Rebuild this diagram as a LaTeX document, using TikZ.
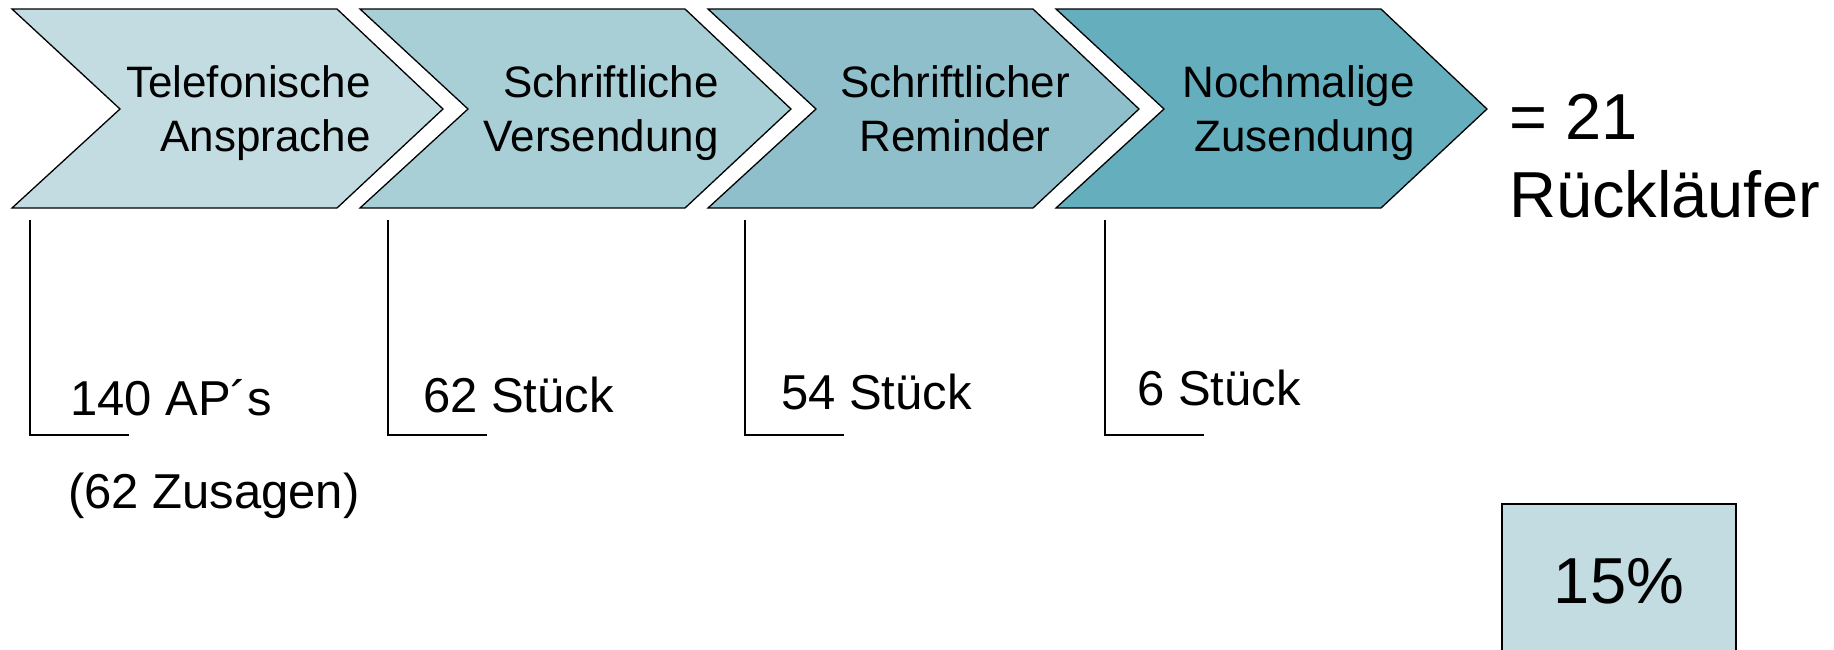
\documentclass[tikz,border=0pt]{standalone}
\usepackage{fontspec}
\setmainfont{Liberation Sans}
\definecolor{cA}{RGB}{194,220,226}
\definecolor{cB}{RGB}{168,207,214}
\definecolor{cC}{RGB}{143,191,202}
\definecolor{cD}{RGB}{100,174,189}
\begin{document}
\begin{tikzpicture}[x=1pt,y=-1pt,
  chev/.style={draw=black,line width=1.3pt,line join=miter},
  steptext/.style={inner sep=0pt,font=\fontsize{44}{54}\selectfont},
  numtext/.style={inner sep=0pt,anchor=west,font=\fontsize{49}{58}\selectfont},
  bigtext/.style={inner sep=0pt,anchor=west,align=left,font=\fontsize{65}{78}\selectfont},
  bracket/.style={draw=black,line width=1.3pt}]
\useasboundingbox (0,0) rectangle (1834,649);
% chevrons
\foreach \x/\c in {12/cA,360/cB,708/cC,1056/cD}{
  \fill[\c] (\x,9) -- (\x+325,9) -- (\x+431,109) -- (\x+325,208) -- (\x,208) -- (\x+108,109) -- cycle;
  \draw[chev] (\x,9) -- (\x+325,9) -- (\x+431,109) -- (\x+325,208) -- (\x,208) -- (\x+108,109) -- cycle;
}
\node[steptext,anchor=east,align=right] (t1) at (371,113) {Telefonische\\Ansprache};
\node[steptext,anchor=east,align=right] (t2) at (719,113) {Schriftliche\\Versendung};
\node[steptext,anchor=center,align=center] (t3) at (955,109) {Schriftlicher\\Reminder};
\node[steptext,anchor=east,align=right] (t4) at (1415,113) {Nochmalige\\Zusendung};
\node[bigtext] (res) at (1509,156) {= 21\\Rückläufer};
% brackets
\foreach \x in {30,388,745,1105}{
  \draw[bracket] (\x,220) -- (\x,435) -- (\x+99,435);
}
\node[numtext] (n1) at (70,398) {140 AP´s};
\node[numtext] (z1) at (68,496) {(62 Zusagen)};
\node[numtext] (n2) at (423,395) {62 Stück};
\node[numtext] (n3) at (781,392) {54 Stück};
\node[numtext] (n4) at (1137,388) {6 Stück};
% percentage box
\draw[fill=cA,line width=1.3pt] (1502,504) rectangle (1736,660);
\node[inner sep=0pt,font=\fontsize{65}{78}\selectfont] (pct) at (1619,581) {15\%};
\end{tikzpicture}
\end{document}
